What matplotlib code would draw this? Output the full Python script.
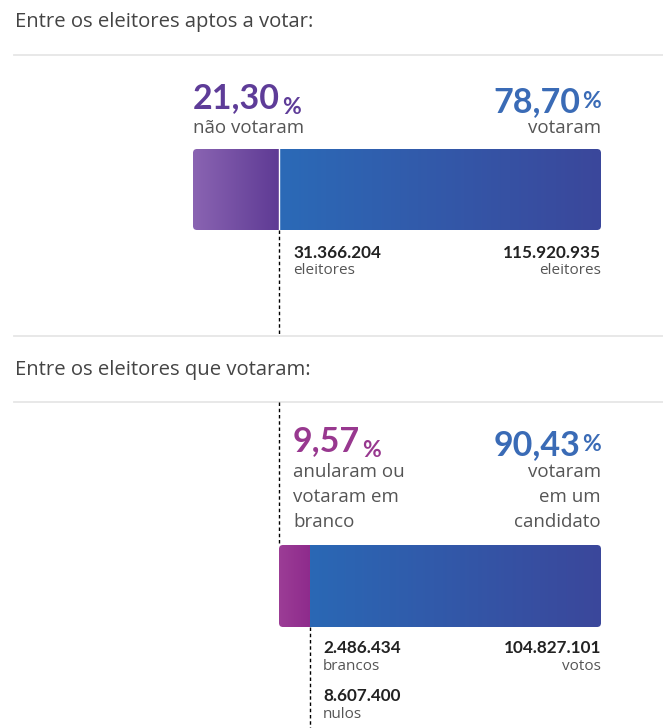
import numpy as np
import matplotlib.pyplot as plt
from matplotlib.colors import LinearSegmentedColormap
from matplotlib.patches import FancyBboxPatch

# Data
headers = ["Entre os eleitores aptos a votar:", "Entre os eleitores que votaram:"]

pct_1 = [21.30, 78.70]
labels_1 = ["não votaram", "votaram"]
counts_1 = ["31.366.204", "115.920.935"]
count_names_1 = ["eleitores", "eleitores"]

pct_2 = [9.57, 90.43]
labels_2 = ["anularam ou\nvotaram em\nbranco", "votaram\nem um\ncandidato"]
counts_2 = ["2.486.434", "104.827.101"]
count_names_2 = ["brancos", "votos"]
extra_count_2 = ("8.607.400", "nulos")

W, H = 663, 728
fig = plt.figure(figsize=(W / 100, H / 100), dpi=100)
ax = fig.add_axes([0, 0, 1, 1])
ax.set_xlim(0, W)
ax.set_ylim(H, 0)
ax.axis('off')

GRAY = '#555555'
DARK = '#222222'
SEP = '#e6e6e6'
PURPLE = '#5e3c98'
MAGENTA = '#98388f'
BLUE = '#3a6bb6'

NUM = 'Lato'
LAB = 'Open Sans'
HEAD = 'Open Sans'

BIG = 24.5
PCT = 16.5
LBL = 13.5
CNT = 12.3
CNL = 11


def fmt_pct(v):
    return f"{v:.2f}".replace('.', ',')


def draw_block(pcts, bar_x0, bar_x1, bar_y, bar_h, colors):
    # rounded outline of the whole bar, used to clip the gradients
    outline = FancyBboxPatch((bar_x0, bar_y), bar_x1 - bar_x0, bar_h,
                             boxstyle='round,pad=0,rounding_size=4',
                             fc='none', ec='none', transform=ax.transData)
    ax.add_patch(outline)
    total = sum(pcts)
    span = bar_x1 - bar_x0
    x = bar_x0
    edges = []
    for v, (cl, cr) in zip(pcts, colors):
        w = span * v / total
        ax.barh(bar_y + bar_h / 2, w, left=x, height=bar_h, color='none', lw=0)
        cmap = LinearSegmentedColormap.from_list('g', [cl, cr])
        grad = np.linspace(0, 1, 256).reshape(1, -1)
        im = ax.imshow(grad, cmap=cmap, aspect='auto',
                       extent=(x, x + w, bar_y + bar_h, bar_y), zorder=2)
        im.set_clip_path(outline)
        x += w
        edges.append(x)
    return edges[0]


def pct_left(x, y, v, color):
    t = ax.text(x, y, fmt_pct(v), fontsize=BIG, weight='bold', family=NUM,
                color=color, va='baseline')
    ax.annotate('%', xy=(1, 0), xycoords=t, xytext=(1.5, 0), textcoords='offset points',
                fontsize=PCT, weight='bold', family=NUM, color=color, va='baseline')


def pct_right(x, y, v, color):
    p = ax.text(x, y, '%', fontsize=PCT, weight='bold', family=NUM,
                color=color, va='baseline', ha='right')
    ax.annotate(fmt_pct(v), xy=(0, 0), xycoords=p, xytext=(-1.5, 0),
                textcoords='offset points', fontsize=BIG, weight='bold', family=NUM,
                color=color, va='baseline', ha='right')


dash = (0, (2.5, 2))

# Separators
for y in [55, 336, 402]:
    ax.plot([14, W], [y, y], color=SEP, lw=1.3, zorder=1)

# Headers
ax.text(15, 22, headers[0], fontsize=14.6, family=HEAD, color='#444444', va='center')
ax.text(15, 370, headers[1], fontsize=14.6, family=HEAD, color='#444444', va='center')

# Block 1
b1_x0, b1_x1, b1_y, b1_h = 193, 601, 149, 81
split1 = draw_block(pct_1, b1_x0, b1_x1, b1_y, b1_h,
                    [('#8a64b2', '#5e3a94'), ('#2b6ab7', '#3b479b')])
ax.plot([split1 - 1, split1 - 1], [b1_y, b1_y + b1_h], color='white', lw=1, zorder=3)
ax.plot([split1 - 1, split1 - 1], [b1_y + b1_h, 336], color='black', lw=1, ls=dash, zorder=3)

pct_left(b1_x0, 108, pct_1[0], PURPLE)
pct_right(b1_x1, 108, pct_1[1], BLUE)
ax.text(b1_x0, 128, labels_1[0], fontsize=LBL, family=LAB, color=GRAY, va='center')
ax.text(b1_x1, 128, labels_1[1], fontsize=LBL, family=LAB, color=GRAY, va='center', ha='right')

ax.text(293, 253, counts_1[0], fontsize=CNT, weight='bold', family=NUM, color=DARK, va='center')
ax.text(293, 270, count_names_1[0], fontsize=CNL, family=LAB, color=GRAY, va='center')
ax.text(b1_x1, 253, counts_1[1], fontsize=CNT, weight='bold', family=NUM, color=DARK,
        va='center', ha='right')
ax.text(b1_x1, 270, count_names_1[1], fontsize=CNL, family=LAB, color=GRAY,
        va='center', ha='right')

# Block 2
b2_x0, b2_x1, b2_y, b2_h = 279, 601, 545, 82
ax.plot([b2_x0, b2_x0], [402, b2_y], color='black', lw=1, ls=dash, zorder=3)
split2 = draw_block(pct_2, b2_x0, b2_x1, b2_y, b2_h,
                    [('#9c3d96', '#8e2b8c'), ('#2a68b5', '#3b479b')])
ax.plot([split2, split2], [b2_y + b2_h, H], color='black', lw=1, ls=dash, zorder=3)

pct_left(293, 451, pct_2[0], MAGENTA)
pct_right(b2_x1, 451, pct_2[1], BLUE)

for i, line in enumerate(labels_2[0].split('\n')):
    ax.text(293, 472 + 25 * i, line, fontsize=LBL, family=LAB, color=GRAY, va='center')
for i, line in enumerate(labels_2[1].split('\n')):
    ax.text(b2_x1, 472 + 25 * i, line, fontsize=LBL, family=LAB, color=GRAY,
            va='center', ha='right')

ax.text(323, 648, counts_2[0], fontsize=CNT, weight='bold', family=NUM, color=DARK, va='center')
ax.text(323, 666, count_names_2[0], fontsize=CNL, family=LAB, color=GRAY, va='center')
ax.text(323, 696, extra_count_2[0], fontsize=CNT, weight='bold', family=NUM, color=DARK, va='center')
ax.text(323, 714, extra_count_2[1], fontsize=CNL, family=LAB, color=GRAY, va='center')
ax.text(b2_x1, 648, counts_2[1], fontsize=CNT, weight='bold', family=NUM, color=DARK,
        va='center', ha='right')
ax.text(b2_x1, 666, count_names_2[1], fontsize=CNL, family=LAB, color=GRAY,
        va='center', ha='right')

fig.savefig('out.png', dpi=100)
